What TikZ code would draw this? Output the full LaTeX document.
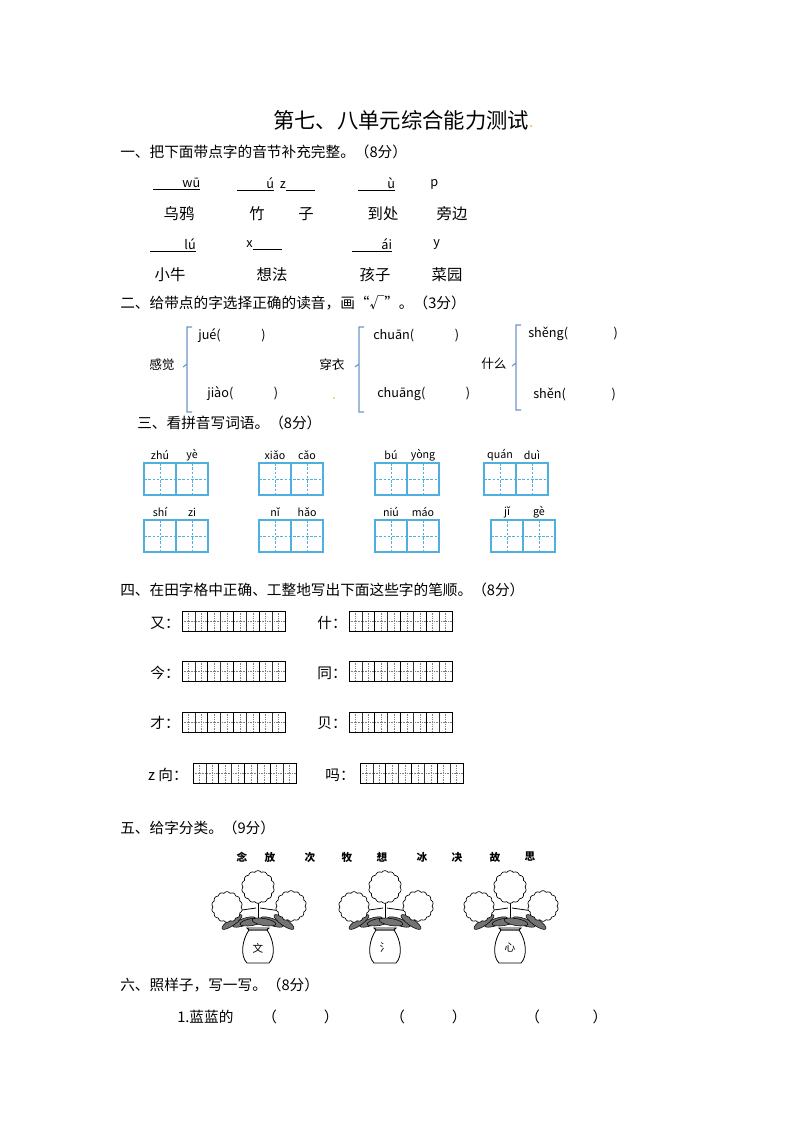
\documentclass[tikz,border=0pt]{standalone}
\usepackage{fontspec}
\setmainfont{Noto Sans CJK SC}
\newfontfamily\songti{Noto Sans CJK SC}
\definecolor{gridblue}{RGB}{80,175,225}
\definecolor{brk}{RGB}{110,150,200}
\definecolor{dotor}{RGB}{240,170,40}
\newcommand\twobox[2]{%
  \draw[gridblue,line width=0.9pt] (#1,#2) rectangle ++(64,32);
  \draw[gridblue,line width=0.9pt] (#1+32,#2) -- ++(0,32);
  \draw[gridblue,dash pattern=on 2pt off 1.2pt,line width=0.5pt] (#1,#2+16) -- ++(64,0) (#1+16,#2) -- ++(0,32) (#1+48,#2) -- ++(0,32);}
\newcommand\eightgrid[2]{%
  \foreach \i in {0,...,7}{\draw[gray,densely dotted,line width=0.3pt] (#1+\i*12.875+6.44,#2) -- ++(0,20);}
  \draw[gray,densely dotted,line width=0.3pt] (#1,#2+10) -- ++(103,0);
  \foreach \i in {1,3,5,7}{\draw[black!80,line width=0.4pt] (#1+\i*12.875,#2) -- ++(0,20);}
  \foreach \i in {2,4,6}{\draw[black,line width=1pt] (#1+\i*12.875,#2) -- ++(0,20);}
  \draw[black,line width=0.6pt] (#1,#2) rectangle ++(103,20);}
\newcommand\bloom[3]{\draw[line width=0.5pt,fill=white] plot[variable=\q,domain=0:358,samples=180,smooth cycle] ({#1+(#3+1.3*abs(sin(7*\q)))*cos(\q)},{#2+(#3+1.3*abs(sin(7*\q)))*sin(\q)});}
\newcommand\vase[3]{%
  \draw[line width=0.6pt] (#1,#2-46) -- (#1,#2-8);
  \draw[line width=0.6pt] (#1-2,#2-22) -- (#1-30,#2-18) (#1+2,#2-22) -- (#1+30,#2-18);
  \foreach \a/\dx in {20/-14,-20/14,35/-26,-35/26,10/-6,-10/6}{%
    \draw[fill=black!55,line width=0.4pt] (#1+\dx,#2-8) ellipse[x radius=12,y radius=3.5,rotate=\a];}
  \draw[line width=0.6pt,fill=white] (#1-9,#2) .. controls (#1-16,#2+10) and (#1-18,#2+26) .. (#1-11,#2+33) -- (#1+11,#2+33) .. controls (#1+18,#2+26) and (#1+16,#2+10) .. (#1+9,#2) -- cycle;
  \draw[line width=0.6pt] (#1-11,#2-2) -- (#1+11,#2-2) -- (#1+9,#2) -- (#1-9,#2) -- cycle;
  \node[font=\songti\fontsize{8}{8}\selectfont] (v#3) at (#1,#2+18) {#3};}
\begin{document}
\begin{tikzpicture}[x=0.75pt,y=-0.75pt,
  head/.style={anchor=west,inner sep=0,font=\fontsize{11}{13}\selectfont},
  py/.style={anchor=west,inner sep=0,font=\fontsize{9.5}{11}\selectfont},
  hz/.style={inner sep=0,font=\fontsize{11.5}{13}\selectfont},
  lb/.style={anchor=east,inner sep=0,font=\fontsize{11}{13}\selectfont},
  sm/.style={inner sep=0,font=\fontsize{8}{10}\selectfont},
  brace/.style={brk,line width=0.8pt}]
\useasboundingbox (0,0) rectangle (800,1132);
\fill[white] (0,0) rectangle (800,1132);
\node[inner sep=0,font=\fontsize{16}{18}\selectfont] (title) at (401,120) {第七、八单元综合能力测试};
\fill[dotor] (531,126) circle (1);
% section 1
\node[head] (h1) at (120,152) {一、把下面带点字的音节补充完整。（8分）};
\node[py] (p1) at (153,184) {\underline{\hspace{2.3em}wū}};
\node[py] (p2) at (237,184) {\underline{\hspace{2.3em}ú}\ \ z\underline{\hspace{2.3em}}};
\node[py] (p3) at (358,184) {\underline{\hspace{2.3em}ù}};
\node[py] (p4) at (430,184) {p};
\node[hz] (c1) at (179,214) {乌鸦};
\node[hz] (c2) at (257,214) {竹};
\node[hz] (c3) at (306,214) {子};
\node[hz] (c4) at (383,214) {到处};
\node[hz] (c5) at (452,214) {旁边};
\node[py] (p5) at (150,245) {\underline{\hspace{2.7em}lú}};
\node[py] (p6) at (246,245) {x\underline{\hspace{2.3em}}};
\node[py] (p7) at (352,245) {\underline{\hspace{2.3em}ái}};
\node[py] (p8) at (433,245) {y};
\node[hz] (c6) at (170,275) {小牛};
\node[hz] (c7) at (272,275) {想法};
\node[hz] (c8) at (375,275) {孩子};
\node[hz] (c9) at (447,275) {菜园};
% section 2
\node[head] (h2) at (120,303) {二、给带点的字选择正确的读音，画“√”。（3分）};
\draw[brace] (192,327) -- (187,327) -- (187,412) -- (192,412) (187,364) -- (183,367);
\draw[brace] (364,327) -- (359,327) -- (359,412) -- (364,412) (359,364) -- (355,367);
\draw[brace] (521,325) -- (516,325) -- (516,410) -- (521,410) (516,363) -- (512,366);
\node[py] (s1) at (149,365) {感觉};
\node[py] (s2) at (319,365) {穿衣};
\node[py] (s3) at (481,364) {什么};
\node[py] (a1) at (198,336) {jué(\hspace{3.2em})};
\node[py] (a2) at (207,394) {jiào(\hspace{3.2em})};
\node[py] (a3) at (373,336) {chuān(\hspace{3.2em})};
\node[py] (a4) at (377,394) {chuāng(\hspace{3.2em})};
\node[py] (a5) at (528,334) {shěng(\hspace{3.6em})};
\node[py] (a6) at (533,394) {shěn(\hspace{3.6em})};
\fill[dotor] (334,398) circle (0.9);
% section 3
\node[head] (h3) at (137,423) {三、看拼音写词语。（8分）};
\foreach \x/\y/\pa/\pb/\n in {144/463/zhú/yè/1,259/463/xiǎo/cǎo/2,375/463/bú/yòng/3,484/463/quán/duì/4,144/520/shí/zi/5,259/520/nǐ/hǎo/6,375/520/niú/máo/7,491/520/jǐ/gè/8}{
  \twobox{\x}{\y}
  \node[sm] (ya\n) at (\x+16,\y-8) {\pa};
  \node[sm] (yb\n) at (\x+48,\y-8) {\pb};
}
% section 4
\node[head] (h4) at (120,590) {四、在田字格中正确、工整地写出下面这些字的笔顺。（8分）};
\node[lb] (k1) at (180,623) {又：};
\node[lb] (k2) at (347,623) {什：};
\node[lb] (k3) at (180,673) {今：};
\node[lb] (k4) at (347,673) {同：};
\node[lb] (k5) at (180,723) {才：};
\node[lb] (k6) at (347,723) {贝：};
\node[lb] (k7) at (188,775) {z 向：};
\node[lb] (k8) at (355,775) {吗：};
\eightgrid{182}{611}\eightgrid{349}{611}
\eightgrid{182}{661}\eightgrid{349}{661}
\eightgrid{182}{712}\eightgrid{349}{712}
\eightgrid{193}{763}\eightgrid{360}{763}
% section 5
\node[head] (h5) at (120,828) {五、给字分类。（9分）};
\foreach \ch/\wx [count=\n] in {念/242,放/270,次/310,牧/347,想/382,冰/422,决/457,故/495,思/530}{
  \node[inner sep=0,font=\songti\bfseries\fontsize{8}{9}\selectfont] (w\n) at (\wx,857) {\ch};}
\foreach \vx/\vt in {258/文,385/氵,510/心}{
  \vase{\vx}{930}{\vt}
  \bloom{\vx}{887}{15}
  \bloom{\vx-31}{907}{14}
  \bloom{\vx+33}{906}{14}
}
% section 6
\node[head] (h6) at (120,985) {六、照样子，写一写。（8分）};
\node[py,font=\fontsize{11}{13}\selectfont] (e1) at (177,1017) {1.蓝蓝的};
\node[py,font=\fontsize{11}{13}\selectfont] (e2) at (262,1017) {（\hspace{3.2em}）};
\node[py,font=\fontsize{11}{13}\selectfont] (e3) at (390,1017) {（\hspace{3.2em}）};
\node[py,font=\fontsize{11}{13}\selectfont] (e4) at (525,1017) {（\hspace{3.6em}）};
\end{tikzpicture}
\end{document}
